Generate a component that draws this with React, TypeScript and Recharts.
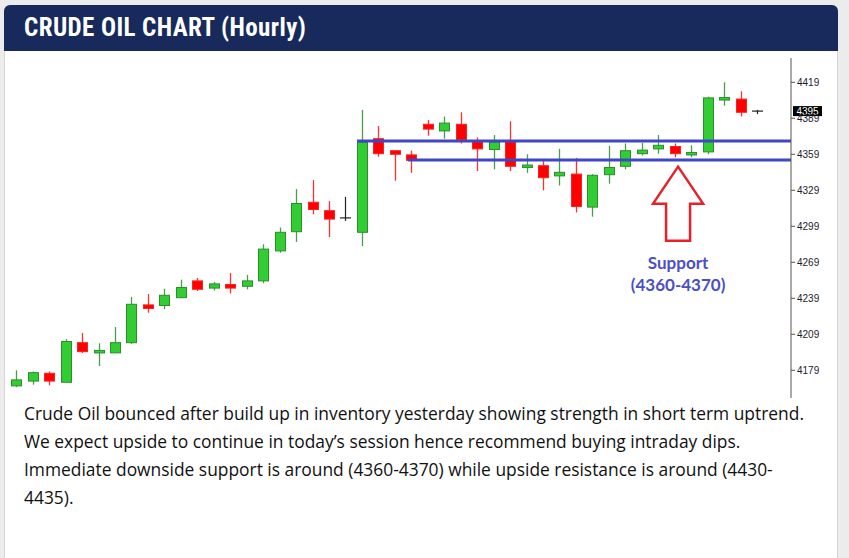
import React from "react";
import { ComposedChart, Bar, XAxis, YAxis, ReferenceLine, ReferenceDot } from "recharts";

// hourly candles (left to right)
const opens = [
  4166, 4170, 4176.5, 4169, 4202, 4194, 4193.5, 4202, 4233.5, 4233,
  4239.5, 4253.5, 4247.5, 4250.5, 4249, 4253.5, 4278.5, 4294.5, 4319, 4312,
  4306, 4294, 4372, 4362, 4358.5, 4384, 4378.5, 4384, 4369.5, 4363,
  4369.5, 4348, 4349.5, 4341, 4342.5, 4315, 4342, 4349, 4359.5, 4363.5,
  4365.5, 4359, 4361, 4404.5, 4405, 4395,
];
const highs = [
  4179, 4178, 4178, 4205, 4210, 4201.5, 4215, 4240, 4242.5, 4247,
  4254.5, 4256, 4252.5, 4260, 4258.5, 4284, 4298, 4330, 4337.5, 4320,
  4323.5, 4396, 4382.5, 4362.5, 4362, 4387.5, 4390.5, 4394, 4373, 4375,
  4386.5, 4359, 4353.5, 4363.5, 4356, 4342.5, 4366, 4368, 4368.5, 4375,
  4368, 4366.5, 4407, 4419, 4411.5, 4396,
];
const lows = [
  4165, 4167, 4166.5, 4169, 4193.5, 4182.5, 4193.5, 4201, 4227, 4230,
  4239.5, 4245, 4245.5, 4243, 4246.5, 4251.5, 4277, 4286, 4309, 4290,
  4303.5, 4282.5, 4357, 4337, 4343.5, 4374.5, 4372, 4368, 4345, 4346.5,
  4345, 4343.5, 4329, 4333, 4310.5, 4307, 4334.5, 4346.5, 4358, 4359.5,
  4356.5, 4356.5, 4359, 4399.5, 4390.5, 4392.5,
];
const closes = [
  4171, 4177, 4170, 4203, 4194.5, 4195, 4202, 4234, 4230.5, 4241.5,
  4248, 4246.5, 4251, 4247.5, 4253.5, 4280, 4294, 4318, 4313, 4305,
  4306, 4369, 4359.5, 4359, 4354, 4380, 4385, 4371, 4363.5, 4369,
  4349, 4350, 4339.5, 4344, 4315.5, 4341.5, 4348, 4362, 4362.5, 4366.5,
  4359.5, 4360, 4406, 4406, 4394, 4395,
];

const yTicks = [4179, 4209, 4239, 4269, 4299, 4329, 4359, 4389, 4419];
const supportTop = 4370;
const supportBottom = 4354.3;
const lastPrice = 4395;

const data = opens.map((o, i) => ({
  i,
  open: o,
  high: highs[i],
  low: lows[i],
  close: closes[i],
}));

const X_MIN = -0.6075;
const X_MAX = 47.08;

const Candle = (props: any) => {
  const { x, y, width, height } = props;
  const p = props.payload || props;
  const { open, close, high, low } = p;
  const k = height / (high - low);
  const py = (v: number) => y + (high - v) * k;
  const cx = Math.round(x + width / 2) + 0.5;
  const flat = close === open;
  const up = close > open;
  const fill = flat ? "#222" : up ? "#32CD32" : "#FF0000";
  const wick = flat ? "#222" : up ? "#4A9E4A" : "#FF3030";
  const edge = flat ? "#222" : up ? "#2A8F2A" : "#FF2020";
  let top = py(Math.max(open, close));
  let bot = py(Math.min(open, close));
  if (flat) {
    return (
      <g>
        <line x1={cx} x2={cx} y1={y} y2={y + height} stroke={wick} strokeWidth={1.2} />
        <line x1={cx - 5.5} x2={cx + 5.5} y1={top} y2={top} stroke={fill} strokeWidth={1.2} />
      </g>
    );
  }
  if (bot - top < 2.5) {
    const m = (top + bot) / 2;
    top = m - 1.25;
    bot = m + 1.25;
  }
  return (
    <g>
      <line x1={cx} x2={cx} y1={y} y2={y + height} stroke={wick} strokeWidth={1.3} />
      <rect x={cx - 5} y={top} width={10} height={bot - top} fill={fill} stroke={edge} strokeWidth={1} />
    </g>
  );
};

const SupportArrow = ({ cx, cy }: any) => (
  <g>
    <polygon
      points={`${cx},${cy} ${cx + 25},${cy + 37} ${cx + 12},${cy + 37} ${cx + 12},${cy + 74} ${cx - 12},${cy + 74} ${cx - 12},${cy + 37} ${cx - 25},${cy + 37}`}
      fill="#fff"
      stroke="#E8202A"
      strokeWidth={2.5}
    />
    <text x={cx} y={cy + 102} textAnchor="middle" fontFamily="Lato, sans-serif" fontWeight={700} fontSize={17} fill="#4A4FC6">
      Support
    </text>
    <text x={cx} y={cy + 124} textAnchor="middle" fontFamily="Lato, sans-serif" fontWeight={700} fontSize={17} fill="#4A4FC6">
      (4360-4370)
    </text>
  </g>
);

const PriceTag = ({ cx, cy }: any) => (
  <g>
    <rect x={cx + 2} y={cy - 5} width={29} height={10} fill="#000" />
    <text x={cx + 16.5} y={cy + 3.5} textAnchor="middle" fontFamily="Liberation Sans, sans-serif" fontSize={10} fill="#fff">
      {lastPrice}
    </text>
  </g>
);

export default function App() {
  return (
    <div style={{ position: "absolute", left: 0, top: 0, width: 849, height: 558, background: "#ececec", overflow: "hidden" }}>
      <div
        style={{
          position: "absolute",
          left: 4,
          top: 5,
          width: 832,
          height: 560,
          background: "#fff",
          border: "1px solid #d6d6d6",
          borderRadius: 6,
        }}
      />
      <div
        style={{
          position: "absolute",
          left: 4,
          top: 5,
          width: 834,
          height: 46,
          background: "#172A5B",
          borderRadius: "6px 6px 0 0",
        }}
      >
        <div
          style={{
            position: "absolute",
            left: 20,
            top: 8,
            color: "#fff",
            fontFamily: "'Liberation Sans Narrow', 'Roboto Condensed', Roboto, sans-serif",
            fontWeight: 700,
            fontSize: 25,
            letterSpacing: 0.4,
            whiteSpace: "nowrap",
          }}
        >
          CRUDE OIL CHART (Hourly)
        </div>
      </div>
      <div style={{ position: "absolute", left: 0, top: 52 }}>
        <ComposedChart width={849} height={350} data={data} margin={{ top: 6, right: 13, bottom: 4, left: 6 }}>
          <XAxis type="number" dataKey="i" domain={[X_MIN, X_MAX]} allowDataOverflow hide />
          <YAxis
            orientation="right"
            width={45}
            domain={[4155.9, 4439.25]}
            allowDataOverflow
            ticks={yTicks}
            interval={0}
            axisLine={{ stroke: "#555" }}
            tickLine={{ stroke: "#555" }}
            tickSize={4}
            tick={{ fontSize: 10, fill: "#1b1b2b", fontFamily: "Liberation Sans, sans-serif" }}
          />
          <Bar dataKey={(d: any) => [d.low, d.high]} barSize={11} shape={<Candle />} isAnimationActive={false} />
          <ReferenceLine
            segment={[{ x: 20.72, y: supportTop }, { x: X_MAX, y: supportTop }]}
            stroke="#3F46C8"
            strokeWidth={3}
            ifOverflow="visible"
          />
          <ReferenceLine
            segment={[{ x: 23.82, y: supportBottom }, { x: X_MAX, y: supportBottom }]}
            stroke="#3F46C8"
            strokeWidth={3}
            ifOverflow="visible"
          />
          <ReferenceDot x={40.22} y={4348.7} r={0} shape={<SupportArrow />} ifOverflow="visible" />
          <ReferenceDot x={X_MAX} y={lastPrice} r={0} shape={<PriceTag />} ifOverflow="visible" />
        </ComposedChart>
      </div>
      <div
        style={{
          position: "absolute",
          left: 24,
          top: 399,
          fontFamily: "'Open Sans', sans-serif",
          fontSize: 17.4,
          lineHeight: "28px",
          color: "#111",
          whiteSpace: "nowrap",
        }}
      >
        <div>Crude Oil bounced after build up in inventory yesterday showing strength in short term uptrend.</div>
        <div>We expect upside to continue in today’s session hence recommend buying intraday dips.</div>
        <div>Immediate downside support is around (4360-4370) while upside resistance is around (4430-</div>
        <div>4435).</div>
      </div>
    </div>
  );
}
